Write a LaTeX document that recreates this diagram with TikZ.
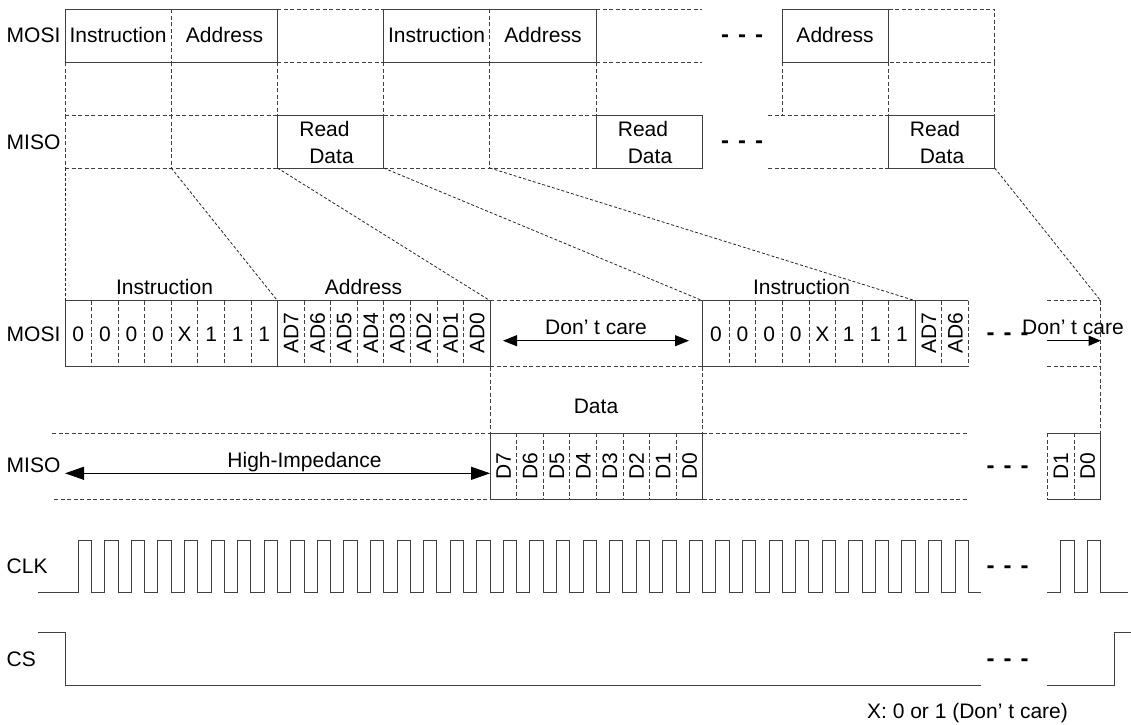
\documentclass[tikz,border=0pt]{standalone}
\usepackage{fontspec}
\setmainfont{Liberation Sans}
\usetikzlibrary{arrows.meta}
\newcommand{\gapdots}{\textbf{-\hspace{9pt}-\hspace{9pt}-}}
\begin{document}
\begin{tikzpicture}[x=1pt,y=-1pt,
  ln/.style={line width=1pt, draw=black!75},
  dsh/.style={line width=0.9pt, draw=black!75, dash pattern=on 4pt off 2.5pt},
  zl/.style={line width=0.8pt, draw=black!85, dash pattern=on 3pt off 2pt},
  txt/.style={font=\fontsize{21}{24}\selectfont, inner sep=0pt, text height=15pt, text depth=0pt},
  rot/.style={txt, rotate=90},
  dots/.style={font=\fontsize{24}{26}\selectfont, inner sep=0pt, anchor=base},
  arr/.style={line width=1pt, draw=black},
]
\useasboundingbox (0,0) rectangle (1131,724);
\def\w{26.57}
% ================= TOP SECTION =================
% MOSI row
\draw[ln] (65,9) rectangle (277.4,62);
\draw[ln] (383.6,9) rectangle (596,62);
\draw[ln] (782.3,9) rectangle (888.5,62);
\draw[dsh] (171.2,9) -- (171.2,62);
\draw[dsh] (489.8,9) -- (489.8,62);
\draw[dsh] (277.4,9) -- (383.6,9);
\draw[dsh] (277.4,62) -- (383.6,62);
\draw[dsh] (596,9) -- (702.2,9);
\draw[dsh] (596,62) -- (702.2,62);
\draw[dsh] (888.5,9) -- (994.7,9) -- (994.7,62) -- (888.5,62);
% row 2
\foreach \x in {65,171.2,277.4,383.6,489.8,596,782.3,888.5,994.7}
  \draw[dsh] (\x,62) -- (\x,115);
% MISO row
\draw[ln] (277.4,115) rectangle (383.6,168);
\draw[ln] (596,115) rectangle (702.2,168);
\draw[ln] (888.5,115) rectangle (994.7,168);
\draw[dsh] (65,115) -- (277.4,115);
\draw[dsh] (65,168) -- (277.4,168);
\draw[dsh] (383.6,115) -- (596,115);
\draw[dsh] (383.6,168) -- (596,168);
\draw[dsh] (768,115) -- (888.5,115);
\draw[dsh] (768,168) -- (888.5,168);
\foreach \x in {65,171.2,489.8}
  \draw[dsh] (\x,115) -- (\x,168);
% top labels
\node[txt,anchor=west] (tmosi) at (6.5,35) {MOSI};
\node[txt,anchor=west] (tmiso) at (6.5,142) {MISO};
\node[txt] (tins1) at (118,35) {Instruction};
\node[txt] (tadd1) at (224.5,35) {Address};
\node[txt] (tins2) at (436.5,35) {Instruction};
\node[txt] (tadd2) at (543,35) {Address};
\node[txt] (tadd3) at (835,35) {Address};
\node[txt] (rd1a) at (324.5,129) {Read};
\node[txt] (rd1b) at (331.5,155.6) {Data};
\node[txt] (rd2a) at (643,129) {Read};
\node[txt] (rd2b) at (650,155.6) {Data};
\node[txt] (rd3a) at (935,129) {Read};
\node[txt] (rd3b) at (942,155.6) {Data};
\node[dots] (tdots1) at (742,42) {\gapdots};
\node[dots] (tdots2) at (742,148.6) {\gapdots};
% ================= ZOOM CONNECTORS =================
\coordinate (za1) at (65,168);    \coordinate (zb1) at (65,300.7);
\coordinate (za2) at (171.2,168); \coordinate (zb2) at (277.5,300.7);
\coordinate (za3) at (277.4,168); \coordinate (zb3) at (490.1,300.7);
\coordinate (za4) at (383.6,168); \coordinate (zb4) at (702.6,300.7);
\coordinate (za5) at (489.8,168); \coordinate (zb5) at (915.2,300.7);
\coordinate (za6) at (994.7,168); \coordinate (zb6) at (1100.7,300.7);
\foreach \k in {1,...,6} \draw[zl] (za\k) -- (zb\k);
% ================= BOTTOM SECTION =================
% MOSI
\draw[ln] (65,300.7) rectangle (490.1,366.7);
\draw[ln] (277.5,300.7) -- (277.5,366.7);
\foreach \i in {1,...,7,9,10,11,12,13,14,15}
  \draw[dsh] ({65+\i*\w},300.7) -- ({65+\i*\w},366.7);
\draw[dsh] (490.1,300.7) -- (702.6,300.7);
\draw[dsh] (490.1,366.7) -- (702.6,366.7);
\draw[ln] (968.4,300.7) -- (702.6,300.7) -- (702.6,366.7) -- (968.4,366.7);
\draw[ln] (915.2,300.7) -- (915.2,366.7);
\foreach \i in {25,...,31,33,34}
  \draw[dsh] ({65+\i*\w},300.7) -- ({65+\i*\w},366.7);
% data gap
\draw[dsh] (490.1,366.7) -- (490.1,433.3);
\draw[dsh] (702.6,366.7) -- (702.6,433.3);
% MISO
\draw[ln] (490.1,433.3) rectangle (702.6,499.3);
\foreach \i in {17,...,23}
  \draw[dsh] ({65+\i*\w},433.3) -- ({65+\i*\w},499.3);
\draw[dsh] (52,433.3) -- (490.1,433.3);
\draw[dsh] (54,499.3) -- (490.1,499.3);
\draw[dsh] (702.6,433.3) -- (968.4,433.3);
\draw[dsh] (702.6,499.3) -- (968.4,499.3);
% right end group
\draw[dsh] (1047.3,300.7) -- (1100.7,300.7);
\draw[dsh] (1047.3,366.7) -- (1100.7,366.7);
\draw[dsh] (1100.7,300.7) -- (1100.7,433.3);
\draw[ln] (1047.3,433.3) -- (1100.7,433.3) -- (1100.7,499.3) -- (1047.3,499.3);
\draw[dsh] (1047.3,433.3) -- (1047.3,499.3);
\draw[dsh] (1074,433.3) -- (1074,499.3);
% bottom labels
\node[txt,anchor=west] (bmosi) at (6.5,333.5) {MOSI};
\node[txt,anchor=west] (bmiso) at (6.5,465) {MISO};
\node[txt] (bins1) at (164.5,287) {Instruction};
\node[txt] (badd1) at (363.5,287) {Address};
\node[txt] (bins2) at (801.5,287) {Instruction};
\node[txt] (bdata) at (596,405.5) {Data};
\node[txt] (dc1) at (596,327) {Don’ t care};
\node[txt] (dc2) at (1073,326.7) {Don’ t care};
\node[txt] (hiz) at (304.5,459.7) {High-Impedance};
\foreach \t [count=\i from 0] in {0,0,0,0,X,1,1,1}
  \node[txt] (ba\i) at ({65+(\i+0.5)*\w},333.5) {\t};
\foreach \t [count=\i from 24] in {0,0,0,0,X,1,1,1}
  \node[txt] (bb\i) at ({65+(\i+0.5)*\w},333.5) {\t};
\foreach \t [count=\i from 8] in {AD7,AD6,AD5,AD4,AD3,AD2,AD1,AD0}
  \node[rot] (ad\i) at ({65+(\i+0.5)*\w},333.5) {\t};
\foreach \t [count=\i from 32] in {AD7,AD6}
  \node[rot] (ae\i) at ({65+(\i+0.5)*\w},333.5) {\t};
\foreach \t [count=\i from 16] in {D7,D6,D5,D4,D3,D2,D1,D0}
  \node[rot] (dd\i) at ({65+(\i+0.5)*\w},466.3) {\t};
\node[rot] (de1) at (1060.7,466.3) {D1};
\node[rot] (de0) at (1087.3,466.3) {D0};
% arrows
\coordinate (dcl) at (503,340.7); \coordinate (dcr) at (689,340.7);
\draw[arr,{Triangle[length=14pt,width=11pt]}-{Triangle[length=14pt,width=11pt]}] (dcl) -- (dcr);
\coordinate (dc2l) at (1047.3,340.7); \coordinate (dc2r) at (1100.7,340.7);
\draw[arr,-{Triangle[length=12pt,width=10pt]}] (dc2l) -- (dc2r);
\coordinate (hzl) at (65,473.3); \coordinate (hzr) at (490.1,473.3);
\draw[arr,{Triangle[length=19pt,width=13pt]}-{Triangle[length=19pt,width=13pt]}] (hzl) -- (hzr);
% dots
\node[dots] (bdots1) at (1007.5,340.3) {\gapdots};
\node[dots] (bdots2) at (1007.5,473) {\gapdots};
\node[dots] (bdots3) at (1007.5,573.6) {\gapdots};
\node[dots] (bdots4) at (1007.5,666.3) {\gapdots};
% ================= CLK =================
\def\lo{592.7}\def\hi{540}
\node[txt,anchor=west] (clk) at (6.5,565.5) {CLK};
\draw[ln] (38,\lo) -- (65,\lo)
  \foreach \i in {0,...,33} { -- ({65+(\i+0.5)*\w},\lo) -- ({65+(\i+0.5)*\w},\hi) -- ({65+(\i+1)*\w},\hi) -- ({65+(\i+1)*\w},\lo) }
  -- (980.7,\lo);
\draw[ln] (1047.3,\lo) -- (1060.7,\lo) -- (1060.7,\hi) -- (1074,\hi) -- (1074,\lo) -- (1087.3,\lo) -- (1087.3,\hi) -- (1100.7,\hi) -- (1100.7,\lo) -- (1128,\lo);
% ================= CS =================
\node[txt,anchor=west] (cs) at (6.5,659) {CS};
\draw[ln] (38,632.7) -- (65,632.7) -- (65,685) -- (980.7,685);
\draw[ln] (1047.3,685) -- (1114,685) -- (1114,632.7) -- (1131,632.7);
% note
\node[txt] (note) at (967.5,711) {X: 0 or 1 (Don’ t care)};
\end{tikzpicture}
\end{document}
